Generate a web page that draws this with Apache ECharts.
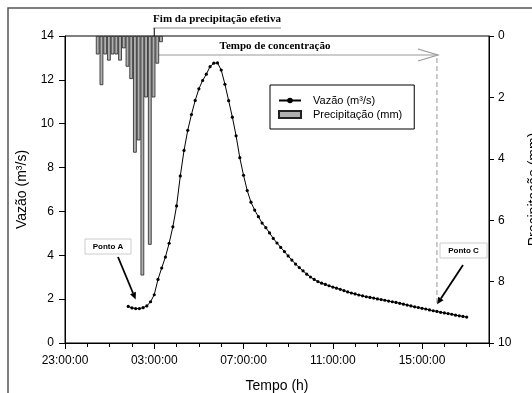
<!DOCTYPE html>
<html><head><meta charset="utf-8">
<script src="https://cdn.jsdelivr.net/npm/echarts@6/dist/echarts.min.js"></script>
<style>html,body{margin:0;padding:0;background:#fff}#c{width:532px;height:393px}</style>
</head><body><div id="c"></div>
<script>
// ---- data ----
const xTickLabels = ['23:00:00', '03:00:00', '07:00:00', '11:00:00', '15:00:00'];
const axisOrigin = '23:00';          // x = 0 hours
const precipStart = '00:28';         // first bar centre, bars every 10 min
const precipStepMin = 10;
const precipMm = [0.6, 1.6, 0.6, 0.8, 0.6, 0.6, 0.8, 0.4, 1.0, 1.4, 3.8, 3.4, 7.8, 2.0, 6.8, 2.0, 0.9, 0.2];
const flowStart = '01:50';           // first point, points every 10 min
const flowStepMin = 10;
const flowM3s = [
  1.67, 1.60, 1.57, 1.57, 1.61, 1.69, 1.88, 2.20, 2.90, 3.42,
  3.92, 4.55, 5.30, 6.25, 7.62, 8.78, 9.70, 10.42, 11.06, 11.59,
  11.97, 12.26, 12.60, 12.76, 12.77, 12.45, 11.80, 11.05, 10.30, 9.45,
  8.45, 7.65, 6.95, 6.42, 6.06, 5.76, 5.47, 5.26, 5.02, 4.77,
  4.56, 4.36, 4.17, 3.97, 3.78, 3.60, 3.44, 3.29, 3.14, 3.01,
  2.90, 2.80, 2.73, 2.67, 2.61, 2.55, 2.50, 2.45, 2.39, 2.33,
  2.28, 2.24, 2.19, 2.15, 2.11, 2.08, 2.05, 2.01, 1.98, 1.95,
  1.91, 1.88, 1.85, 1.81, 1.77, 1.73, 1.69, 1.65, 1.62, 1.58,
  1.55, 1.51, 1.47, 1.44, 1.40, 1.37, 1.34, 1.31, 1.27, 1.24,
  1.21, 1.18
];
const endEffectivePrecip = '03:00';
const endConcentration = '15:40';
const pointA = '02:10';
const pointC = '15:35';

// ---- helpers ----
function hrs(s) {
  const [h, m] = s.split(':').map(Number);
  const [h0, m0] = axisOrigin.split(':').map(Number);
  let d = (h * 60 + m) - (h0 * 60 + m0);
  if (d < 0) d += 1440;
  return d / 60;
}
const precipData = precipMm.map((v, i) => [hrs(precipStart) + i * precipStepMin / 60, v]);
const flowData = flowM3s.map((v, i) => [hrs(flowStart) + i * flowStepMin / 60, v]);

const chart = echarts.init(document.getElementById('c'), null, { renderer: 'canvas' });
const sans = 'Liberation Sans, Arial, sans-serif';
const serif = 'Liberation Serif, Times New Roman, serif';

chart.setOption({
  animation: false,
  backgroundColor: '#fff',
  grid: { left: 65, right: 43, top: 36, bottom: 50, containLabel: false, outerBoundsMode: 'none',
    show: true, borderColor: '#000', borderWidth: 1 },
  legend: {
    orient: 'vertical', left: 270, top: 85,
    padding: [10, 12, 9, 8], itemGap: 3,
    borderColor: '#000', borderWidth: 1,
    itemWidth: 22, itemHeight: 7,
    textStyle: { fontFamily: sans, fontSize: 11, color: '#000', padding: [0, 0, 0, 7] },
    data: [
      { name: 'Vazão (m³/s)' },
      { name: 'Precipitação (mm)', icon: 'rect' }
    ]
  },
  xAxis: [{
    type: 'value', min: 0, max: 19, interval: 4, position: 'bottom',
    name: 'Tempo (h)', nameLocation: 'middle', nameGap: 36,
    nameTextStyle: { fontFamily: sans, fontSize: 14, color: '#000' },
    axisLine: { onZero: false, lineStyle: { color: '#000' } },
    axisTick: { inside: false, length: 6, lineStyle: { color: '#000' } },
    axisLabel: { fontFamily: sans, fontSize: 12, color: '#000', margin: 12, showMaxLabel: false,
      formatter: v => xTickLabels[Math.round(v / 4)] || '' },
    minorTick: { show: false },
    splitLine: { show: false }
  }, {
    type: 'value', min: 0, max: 19, interval: 1, position: 'bottom',
    axisLine: { show: false, onZero: false },
    axisTick: { inside: false, length: 4, lineStyle: { color: '#000' } },
    axisLabel: { show: false }, splitLine: { show: false }
  }],
  yAxis: [{
    type: 'value', min: 0, max: 14, interval: 2, position: 'left',
    name: 'Vazão (m³/s)', nameLocation: 'middle', nameGap: 36, nameRotate: 90,
    nameTextStyle: { fontFamily: sans, fontSize: 14, color: '#000' },
    axisLine: { show: true, onZero: false, lineStyle: { color: '#000' } },
    axisTick: { show: true, inside: false, length: 6, lineStyle: { color: '#000' } },
    minorTick: { show: false },
    axisLabel: { fontFamily: sans, fontSize: 12, color: '#000', margin: 11 },
    splitLine: { show: false }
  }, {
    type: 'value', min: 0, max: 10, interval: 2, inverse: true, position: 'right',
    name: 'Precipitação (mm)', nameLocation: 'middle', nameGap: 38, nameRotate: 90,
    nameTextStyle: { fontFamily: sans, fontSize: 14, color: '#000', verticalAlign: 'top' },
    axisLine: { show: true, onZero: false, lineStyle: { color: '#000' } },
    axisTick: { show: true, inside: false, length: 5, lineStyle: { color: '#000' } },
    minorTick: { show: false },
    axisLabel: { fontFamily: sans, fontSize: 12, color: '#000', margin: 9 },
    splitLine: { show: false }
  }],
  series: [{
    name: 'Precipitação (mm)', type: 'bar', xAxisIndex: 0, yAxisIndex: 1,
    data: precipData, barWidth: 3.7,
    itemStyle: { color: '#b0b0b0', borderColor: '#222', borderWidth: 0.8 }
  }, {
    name: 'Vazão (m³/s)', type: 'line', xAxisIndex: 0, yAxisIndex: 0,
    data: flowData, symbol: 'circle', symbolSize: 3.2, showSymbol: true,
    lineStyle: { color: '#000', width: 1 },
    itemStyle: { color: '#000' }
  }]
});

// ---- annotations ----
function px(t, v) {
  return chart.convertToPixel({ xAxisIndex: 0, yAxisIndex: 0 }, [hrs(t), v]);
}
function arrow(x1, y1, x2, y2, w, head) {
  const a = Math.atan2(y2 - y1, x2 - x1);
  const hl = head, hw = head * 0.45;
  const bx = x2 - hl * Math.cos(a), by = y2 - hl * Math.sin(a);
  return [
    { type: 'line', shape: { x1, y1, x2: bx, y2: by }, style: { stroke: '#000', lineWidth: w } },
    { type: 'polygon', shape: { points: [[x2, y2], [bx + hw * Math.sin(a), by - hw * Math.cos(a)], [bx - hw * Math.sin(a), by + hw * Math.cos(a)]] }, style: { fill: '#000' } }
  ];
}
const xEnd = px(endEffectivePrecip, 0)[0];
const xConc = px(endConcentration, 0)[0];
const yTop = 36;
const pA = px(pointA, 1.62);
const pC = px(pointC, 1.49);
const g = [
  { type: 'polyline', shape: { points: [[8, 393], [8, 8], [532, 8]] }, style: { stroke: '#555', lineWidth: 1.5, fill: null } },
  { type: 'text', style: { text: 'Fim da precipitação efetiva', x: 217, y: 19, align: 'center', verticalAlign: 'middle', font: 'bold 11px ' + serif, fill: '#000' } },
  { type: 'line', shape: { x1: xEnd - 1, y1: 28, x2: 281, y2: 28 }, style: { stroke: '#888', lineWidth: 1 } },
  { type: 'line', shape: { x1: xEnd, y1: 28, x2: xEnd, y2: yTop }, style: { stroke: '#000', lineWidth: 1 } },
  { type: 'text', style: { text: 'Tempo de concentração', x: 275, y: 46, align: 'center', verticalAlign: 'middle', font: 'bold 11px ' + serif, fill: '#000' } },
  { type: 'line', shape: { x1: xEnd + 3, y1: 55, x2: xConc + 1, y2: 55 }, style: { stroke: '#999', lineWidth: 1.2 } },
  { type: 'polyline', shape: { points: [[xConc - 19, 49], [xConc + 1, 55], [xConc - 19, 61]] }, style: { stroke: '#999', lineWidth: 1.2, fill: null } },
  { type: 'line', shape: { x1: xConc, y1: 58, x2: xConc, y2: 305 }, style: { stroke: '#aaa', lineWidth: 1.2, lineDash: [5, 3] } },
  { type: 'rect', shape: { x: 85, y: 239, width: 46, height: 15 }, style: { fill: '#fff', stroke: '#ccc', lineWidth: 1 } },
  { type: 'text', style: { text: 'Ponto A', x: 108, y: 246.5, align: 'center', verticalAlign: 'middle', font: 'bold 8px ' + sans, fill: '#000' } },
  { type: 'rect', shape: { x: 440, y: 243, width: 47, height: 15 }, style: { fill: '#fff', stroke: '#ccc', lineWidth: 1 } },
  { type: 'text', style: { text: 'Ponto C', x: 463.5, y: 250.5, align: 'center', verticalAlign: 'middle', font: 'bold 8px ' + sans, fill: '#000' } }
].concat(arrow(118, 257, pA[0], pA[1] - 8, 1.8, 7))
 .concat(arrow(463, 265, pC[0] + 2, pC[1] - 6, 1.8, 7));
chart.setOption({ graphic: g });
</script>
</body></html>
